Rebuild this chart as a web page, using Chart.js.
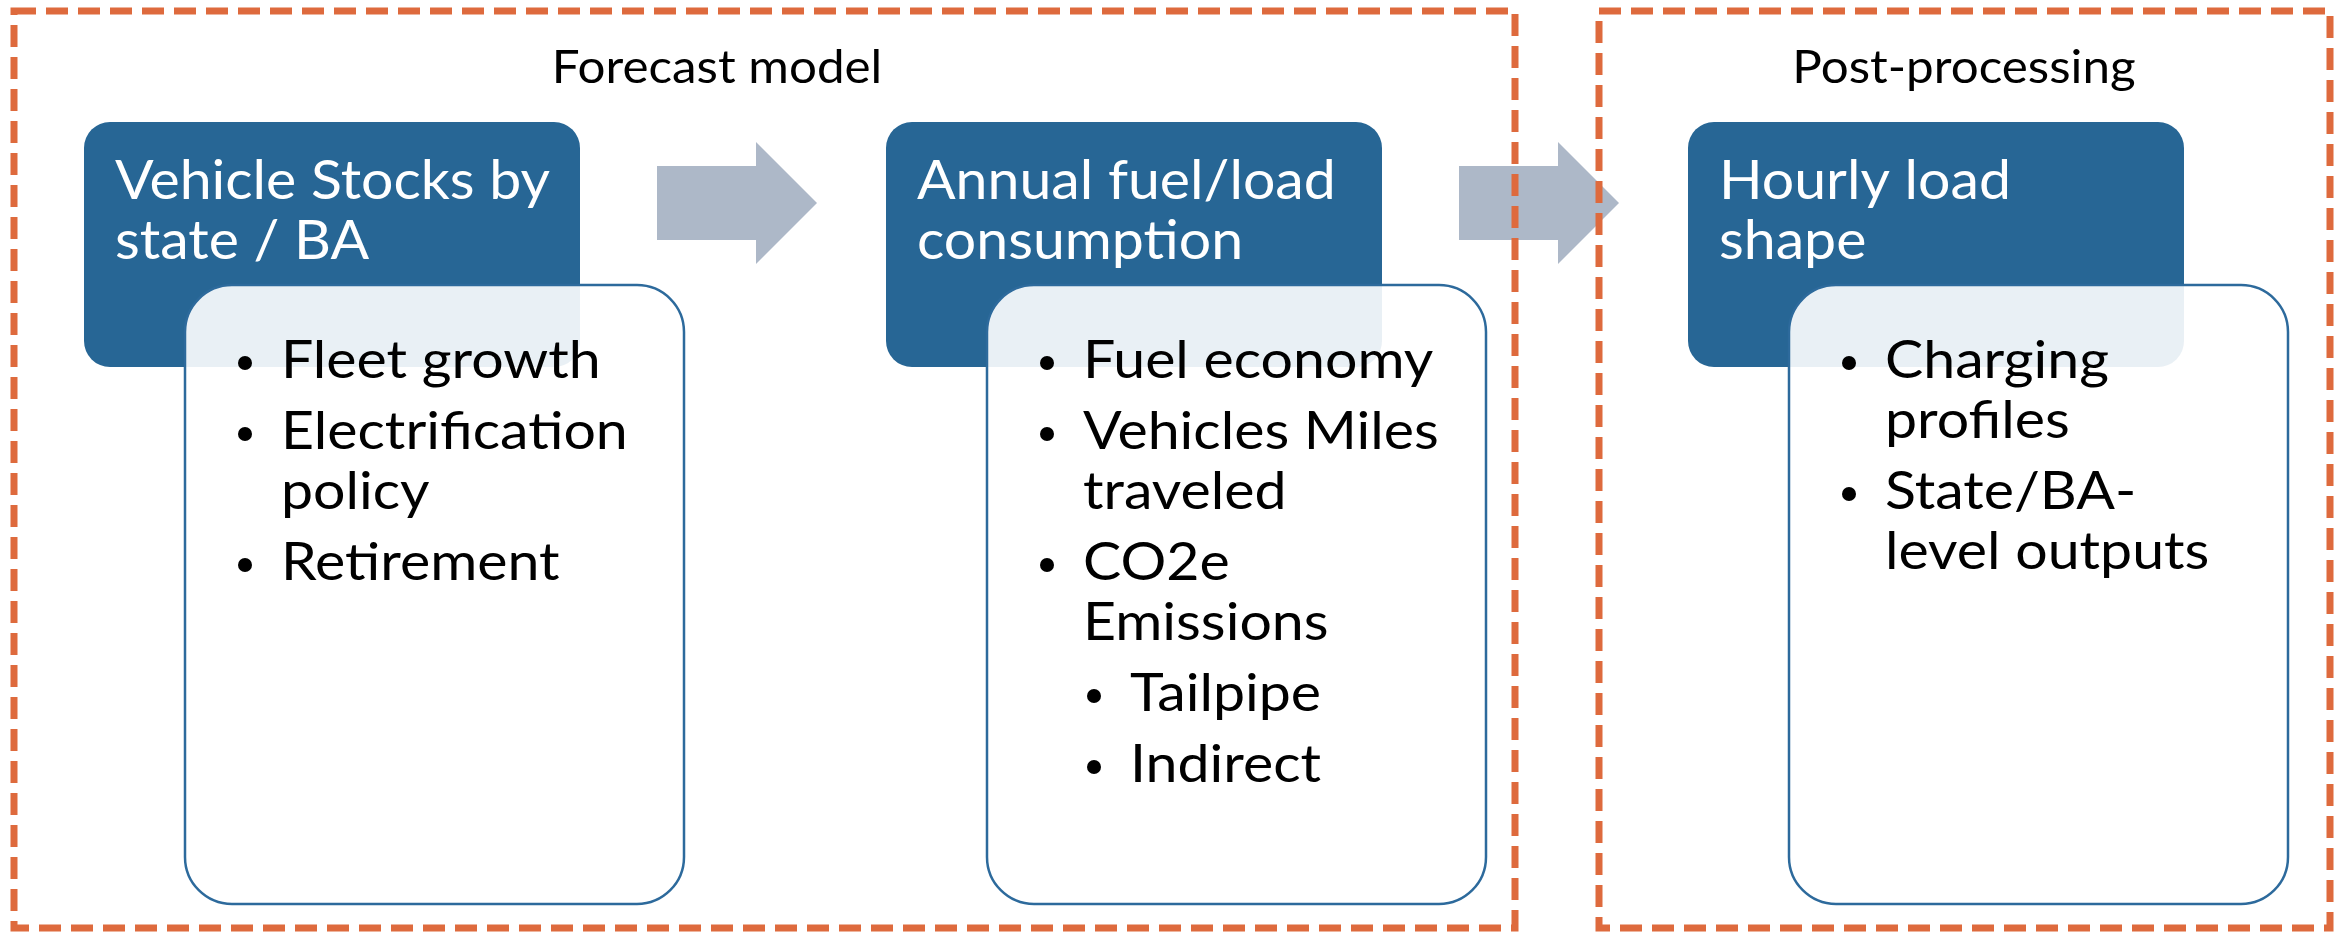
<!DOCTYPE html>
<html>
<head>
<meta charset="utf-8">
<script src="https://cdn.jsdelivr.net/npm/chart.js@4.4.0/dist/chart.umd.min.js"></script>
<style>
  html, body { margin: 0; padding: 0; background: #fff; }
</style>
</head>
<body>
<canvas id="diagram" width="2343" height="933"></canvas>
<script>
// --- content ---
const groupLabels = ['Forecast model', 'Post-processing'];
const stageTitles = [
  ['Vehicle Stocks by', 'state / BA'],
  ['Annual fuel/load', 'consumption'],
  ['Hourly load', 'shape']
];
// each item: [lines, level]
const stageItems = [
  [[['Fleet growth'], 0], [['Electrification', 'policy'], 0], [['Retirement'], 0]],
  [[['Fuel economy'], 0], [['Vehicles Miles', 'traveled'], 0], [['CO2e', 'Emissions'], 0],
   [['Tailpipe'], 1], [['Indirect'], 1]],
  [[['Charging', 'profiles'], 0], [['State/BA-', 'level outputs'], 0]]
];

// --- layout (in scale units, 1 unit = 1 px of the original) ---
const W = 2343, H = 933;
const groupBoxes = [[14, 11, 1515, 928], [1599, 11, 2330, 928]];
const groupLabelX = [717, 1964];
const groupLabelY = 83;
const stageX = [84, 886, 1688];
const headW = 496, headTop = 122, headBottom = 367;
const bodyDX = 101, bodyW = 499, bodyTop = 285, bodyBottom = 904;
const arrowX = [657, 1459];

const colors = {
  dash: '#DE6A3D',
  head: '#276695',
  bodyLine: '#2D6A9C',
  arrow: '#ADB8C8'
};
const FONT = 'Lato, "Liberation Sans", sans-serif';

function roundRect(ctx, x0, y0, x1, y1, r) {
  ctx.beginPath();
  ctx.moveTo(x0 + r, y0);
  ctx.arcTo(x1, y0, x1, y1, r);
  ctx.arcTo(x1, y1, x0, y1, r);
  ctx.arcTo(x0, y1, x0, y0, r);
  ctx.arcTo(x0, y0, x1, y0, r);
  ctx.closePath();
}

// the original face is a little wider than Lato, so stretch it
function text(ctx, t, x, y, stretch) {
  ctx.save();
  ctx.translate(x, y);
  ctx.scale(stretch, 1);
  ctx.fillText(t, 0, 0);
  ctx.restore();
}

const diagramPlugin = {
  id: 'diagram',
  afterDraw(chart) {
    const ctx = chart.ctx;
    const sx = chart.scales.x, sy = chart.scales.y;
    const X = v => sx.getPixelForValue(v);
    const Y = v => sy.getPixelForValue(v);
    ctx.save();

    // arrows between stages
    ctx.fillStyle = colors.arrow;
    arrowX.forEach(ax => {
      ctx.beginPath();
      ctx.moveTo(X(ax), Y(166));
      ctx.lineTo(X(ax + 99), Y(166));
      ctx.lineTo(X(ax + 99), Y(142));
      ctx.lineTo(X(ax + 160), Y(203));
      ctx.lineTo(X(ax + 99), Y(264));
      ctx.lineTo(X(ax + 99), Y(240));
      ctx.lineTo(X(ax), Y(240));
      ctx.closePath();
      ctx.fill();
    });

    ctx.textBaseline = 'alphabetic';
    stageTitles.forEach((title, i) => {
      const x0 = stageX[i];
      // header box
      ctx.fillStyle = colors.head;
      roundRect(ctx, X(x0), Y(headTop), X(x0 + headW), Y(headBottom), 26);
      ctx.fill();
      ctx.fillStyle = '#fff';
      ctx.font = '55px ' + FONT;
      ctx.textAlign = 'left';
      title.forEach((t, k) => text(ctx, t, X(x0 + 31), Y(199 + k * 60), 1.04));

      // body box
      const bx = x0 + bodyDX;
      roundRect(ctx, X(bx), Y(bodyTop), X(bx + bodyW), Y(bodyBottom), 47);
      ctx.fillStyle = 'rgba(255,255,255,0.9)';
      ctx.fill();
      ctx.strokeStyle = colors.bodyLine;
      ctx.lineWidth = 2.5;
      ctx.stroke();

      // bullets
      ctx.fillStyle = '#000';
      ctx.font = '53px ' + FONT;
      let y = 378;
      stageItems[i].forEach((item, n) => {
        const [lines, level] = item;
        if (n > 0) y += 71;
        const dotX = bx + (level ? 107 : 60);
        const txtX = bx + (level ? 143 : 96);
        ctx.beginPath();
        ctx.arc(X(dotX), Y(y - 15), 7, 0, Math.PI * 2);
        ctx.fill();
        lines.forEach((ln, k) => {
          if (k > 0) y += 60;
          text(ctx, ln, X(txtX), Y(y), 1.08);
        });
      });
    });

    // group labels
    ctx.fillStyle = '#000';
    ctx.font = '47px ' + FONT;
    ctx.textAlign = 'center';
    groupLabels.forEach((g, i) => text(ctx, g, X(groupLabelX[i]), Y(groupLabelY), 1.05));

    // dashed group boxes
    ctx.strokeStyle = colors.dash;
    ctx.lineWidth = 7;
    ctx.setLineDash([22, 10]);
    groupBoxes.forEach(b => {
      ctx.strokeRect(X(b[0]), Y(b[1]), X(b[2]) - X(b[0]), Y(b[3]) - Y(b[1]));
    });
    ctx.restore();
  }
};

new Chart(document.getElementById('diagram'), {
  type: 'scatter',
  data: { datasets: [{ data: [] }] },
  options: {
    responsive: false,
    animation: false,
    devicePixelRatio: 1,
    layout: { padding: 0 },
    plugins: { legend: { display: false }, tooltip: { enabled: false } },
    scales: {
      x: { type: 'linear', min: 0, max: W, display: false },
      y: { type: 'linear', min: 0, max: H, reverse: true, display: false }
    }
  },
  plugins: [diagramPlugin]
});
</script>
</body>
</html>
